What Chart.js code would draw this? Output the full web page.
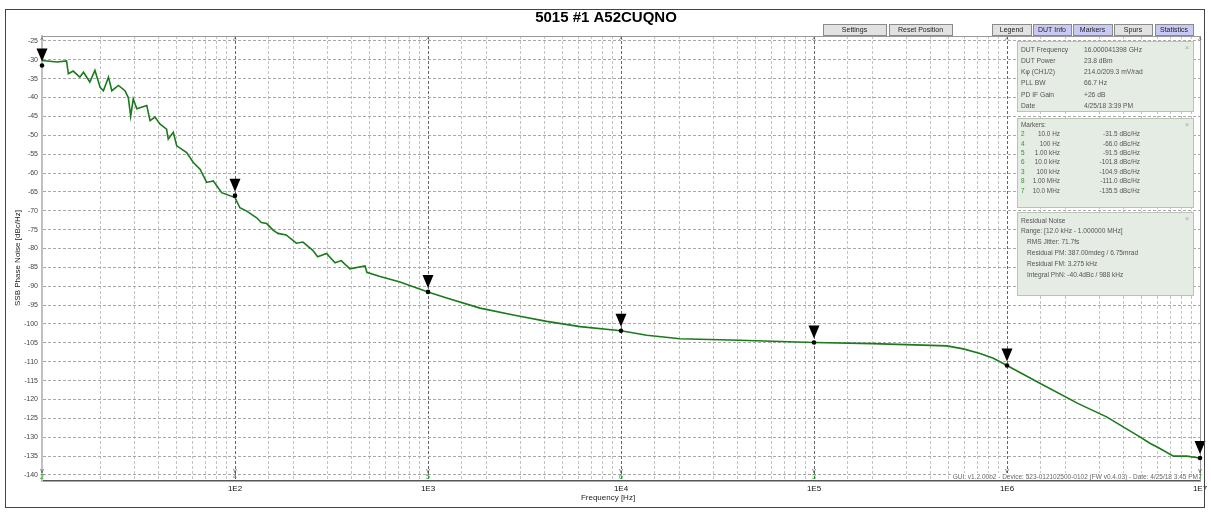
<!DOCTYPE html>
<html>
<head>
<meta charset="utf-8">
<script src="https://cdn.jsdelivr.net/npm/chart.js@4.4.1/dist/chart.umd.min.js"></script>
<style>
  body { margin: 0; background: #fff; }
  #wrap { width: 1211px; height: 520px; position: relative; }
</style>
</head>
<body>
<div id="wrap"><canvas id="chart" width="1211" height="520"></canvas></div>
<script>
// trace data (Hz, dBc/Hz)
const freqHz = [10, 12, 13.4, 13.7, 14.5, 15.7, 16.4, 17.7, 18.8, 20, 20.8, 22.1, 23, 24.9, 26.9, 28, 28.8, 29.7, 31, 34.9, 36.3, 38.5, 40.8, 44.2, 45.1, 47.9, 49.9, 56.2, 60.8, 65.9, 71.3, 77.2, 85.3, 100, 106, 115, 129, 137, 146, 158, 167, 184, 208, 225, 253, 268, 298, 330, 355, 394, 472, 482, 565, 716, 1000, 1250, 1860, 2770, 4120, 6140, 10000, 13600, 20200, 41000, 100000, 200000, 368000, 487000, 594000, 725000, 850000, 1000000, 1480000, 2340000, 3280000, 4880000, 5500000, 6200000, 7280000, 8530000, 10000000];
const noiseDb = [-30.2, -30.6, -30.3, -33.7, -33.0, -34.6, -33.3, -35.9, -32.8, -37.3, -38.2, -34.6, -38.2, -36.8, -38.2, -40, -45, -40.4, -43, -42.1, -46.1, -45.2, -47, -48.4, -51, -49.2, -52.8, -54.6, -57.2, -59, -62.5, -62.1, -65.2, -66.5, -69.2, -70.1, -71.8, -73.1, -73.4, -75.2, -76.0, -76.4, -78.6, -78.3, -80.5, -82.2, -81.3, -83.8, -83.2, -85.4, -84.6, -86.3, -87.4, -88.9, -91.5, -93.1, -95.8, -97.6, -99.3, -100.7, -101.8, -103, -103.9, -104.3, -104.9, -105.2, -105.6, -105.8, -106.6, -107.8, -109.1, -111, -115.7, -121.1, -124.6, -129.9, -131.6, -133, -135, -135, -135.5];

// markers
const markerId = ["2", "4", "5", "6", "3", "8", "7"];
const markerFreq = [10, 100, 1000, 10000, 100000, 1000000, 10000000];
const markerVal = [-31.5, -66.0, -91.5, -101.8, -104.9, -111.0, -135.5];
const markerFreqText = ["10.0 Hz", "100 Hz", "1.00 kHz", "10.0 kHz", "100 kHz", "1.00 MHz", "10.0 MHz"];

// side panels
const dutLabels = ["DUT Frequency", "DUT Power", "Kφ (CH1/2)", "PLL BW", "PD IF Gain", "Date"];
const dutValues = ["16.000041398 GHz", "23.8 dBm", "214.0/209.3 mV/rad", "66.7 Hz", "+26 dB", "4/25/18 3:39 PM"];
const residualLines = ["Range: [12.0 kHz - 1.000000 MHz]", "RMS Jitter: 71.7fs", "Residual PM: 387.00mdeg / 6.75mrad", "Residual FM: 3.275 kHz", "Integral PhN: -40.4dBc / 988 kHz"];
const buttons = [
  ["Settings", 823, 886, false], ["Reset Position", 889, 952, false],
  ["Legend", 992, 1031, false], ["DUT Info", 1033, 1071, true],
  ["Markers", 1073, 1112, true], ["Spurs", 1114, 1152, false],
  ["Statistics", 1155, 1193, true]
];

const FONT = "'Liberation Sans', Arial, sans-serif";
const isDecade = v => Math.abs(Math.log10(v) - Math.round(Math.log10(v))) < 1e-6;

function panel(ctx, x1, y1, x2, y2) {
  ctx.fillStyle = "#e5ece3";
  ctx.fillRect(x1, y1, x2 - x1, y2 - y1);
  ctx.strokeStyle = "#b9c4b6";
  ctx.lineWidth = 1;
  ctx.strokeRect(x1 + 0.5, y1 + 0.5, x2 - x1, y2 - y1);
  ctx.fillStyle = "#aaa";
  ctx.font = "8px " + FONT;
  ctx.textAlign = "center";
  ctx.fillText("×", x2 - 6, y1 + 7);
  ctx.textAlign = "left";
  ctx.fillStyle = "#555";
}

const decor = {
  id: "decor",
  beforeDraw(chart) {
    const ctx = chart.ctx;
    ctx.save();
    ctx.fillStyle = "#fff";
    ctx.fillRect(0, 0, chart.width, chart.height);
    ctx.restore();
  },
  afterDatasetsDraw(chart) {
    const ctx = chart.ctx;
    const xs = chart.scales.x, ys = chart.scales.y;
    const a = chart.chartArea;
    ctx.save();

    // plot frame top/right
    ctx.strokeStyle = "#999";
    ctx.lineWidth = 1;
    ctx.beginPath();
    ctx.moveTo(a.left, a.top + 0.5); ctx.lineTo(a.right + 0.5, a.top + 0.5); ctx.lineTo(a.right + 0.5, a.bottom);
    ctx.stroke();

    // marker lines decorations + triangles
    ctx.textAlign = "center";
    ctx.textBaseline = "middle";
    for (let i = 0; i < markerFreq.length; i++) {
      const px = xs.getPixelForValue(markerFreq[i]);
      const py = ys.getPixelForValue(markerVal[i]);
      ctx.fillStyle = "#444";
      ctx.font = "7px " + FONT;
      ctx.fillText("^", px, a.top + 4);
      ctx.fillText("v", px, a.bottom - 10);
      ctx.fillStyle = "#2a9a2a";
      ctx.fillText(markerId[i], px, a.bottom - 4);

      ctx.fillStyle = "#000";
      ctx.beginPath();
      ctx.arc(px, py, 2.3, 0, Math.PI * 2);
      ctx.fill();
      ctx.beginPath();
      ctx.moveTo(px - 5.5, py - 17);
      ctx.lineTo(px + 5.5, py - 17);
      ctx.lineTo(px, py - 4);
      ctx.closePath();
      ctx.fill();
    }

    // footer text
    const foot = "GUI: v1.2.00b2 - Device: 523-012102500-0102 (FW v0.4.03) - Date: 4/25/18 3:45 PM";
    ctx.font = "6.5px " + FONT;
    const fw = ctx.measureText(foot).width;
    ctx.fillStyle = "#fff";
    ctx.fillRect(a.right - fw - 3, a.bottom - 8, fw + 2, 7);
    ctx.fillStyle = "#666";
    ctx.textAlign = "right";
    ctx.fillText(foot, a.right - 2, a.bottom - 4);

    // title
    ctx.fillStyle = "#000";
    ctx.textAlign = "center";
    ctx.font = "bold 15px " + FONT;
    ctx.fillText("5015 #1 A52CUQNO", 606, 18);

    // axis titles
    ctx.font = "8px " + FONT;
    ctx.fillStyle = "#222";
    ctx.fillText("Frequency [Hz]", 608, 498);
    ctx.save();
    ctx.translate(18, 258);
    ctx.rotate(-Math.PI / 2);
    ctx.fillText("SSB Phase Noise [dBc/Hz]", 0, 0);
    ctx.restore();

    // buttons
    ctx.font = "7px " + FONT;
    buttons.forEach(b => {
      ctx.fillStyle = b[3] ? "#c9c9f5" : "#e2e2e2";
      ctx.fillRect(b[1], 24, b[2] - b[1], 11);
      ctx.strokeStyle = "#8a8a8a";
      ctx.strokeRect(b[1] + 0.5, 24.5, b[2] - b[1], 11);
      ctx.fillStyle = "#222";
      ctx.fillText(b[0], (b[1] + b[2]) / 2, 30);
    });

    // DUT info panel
    panel(ctx, 1017, 41, 1193, 111);
    ctx.font = "6.7px " + FONT;
    dutLabels.forEach((t, i) => {
      ctx.fillText(t, 1021, 50 + i * 11.2);
      ctx.fillText(dutValues[i], 1084, 50 + i * 11.2);
    });

    // markers panel
    panel(ctx, 1017, 118, 1193, 207);
    ctx.font = "6.4px " + FONT;
    ctx.fillText("Markers:", 1021, 125);
    markerId.forEach((id, i) => {
      const y = 134.5 + i * 9.4;
      ctx.textAlign = "left";
      ctx.fillStyle = "#2a9a2a";
      ctx.fillText(id, 1021, y);
      ctx.fillStyle = "#555";
      ctx.textAlign = "right";
      ctx.fillText(markerFreqText[i], 1060, y);
      ctx.fillText(markerVal[i].toFixed(1) + " dBc/Hz", 1140, y);
    });

    // residual noise panel
    panel(ctx, 1017, 212, 1193, 295);
    ctx.font = "6.6px " + FONT;
    ctx.fillText("Residual Noise", 1021, 221);
    residualLines.forEach((t, i) => {
      ctx.fillText(t, i === 0 ? 1021 : 1027, 231.5 + i * 10.8);
    });

    // outer frame
    ctx.strokeStyle = "#444";
    ctx.lineWidth = 1;
    ctx.strokeRect(5.5, 9.5, 1199, 498);
    ctx.restore();
  }
};

new Chart(document.getElementById("chart"), {
  type: "line",
  data: {
    datasets: [{
      data: freqHz.map((f, i) => ({ x: f, y: noiseDb[i] })),
      borderColor: "#1b7a1b",
      borderWidth: 1.6,
      pointRadius: 0,
      tension: 0,
      fill: false
    }]
  },
  options: {
    responsive: false,
    animation: false,
    layout: { padding: { top: 36, left: 0, right: 11, bottom: 0 } },
    plugins: { legend: { display: false }, title: { display: false }, tooltip: { enabled: false } },
    scales: {
      x: {
        type: "logarithmic",
        min: 10,
        max: 10000000,
        afterFit: s => { s.height = 39; },
        afterBuildTicks: s => { s.ticks = s.ticks.filter(t => t.value >= 10 && t.value <= 1e7); },
        grid: {
          drawTicks: false,
          color: c => (c.tick && isDecade(c.tick.value)) ? "#666" : "#c4c4c4",
          lineWidth: 1
        },
        border: { color: "#555", width: 1.5, dash: [3, 2] },
        ticks: {
          autoSkip: false,
          maxRotation: 0,
          padding: 3,
          color: "#111",
          font: { family: FONT, size: 8 },
          callback: v => (isDecade(v) && v >= 100) ? "1E" + Math.round(Math.log10(v)) : ""
        }
      },
      y: {
        min: -141.6,
        max: -23.7,
        afterFit: s => { s.width = 42; },
        grid: { drawTicks: false, color: "#a8a8a8", lineWidth: 1 },
        border: { color: "#c0c0c0", width: 2, dash: [3, 2] },
        ticks: {
          stepSize: 5,
          includeBounds: false,
          padding: 4,
          color: "#444",
          font: { family: FONT, size: 7 }
        }
      }
    }
  },
  plugins: [decor]
});
</script>
</body>
</html>
